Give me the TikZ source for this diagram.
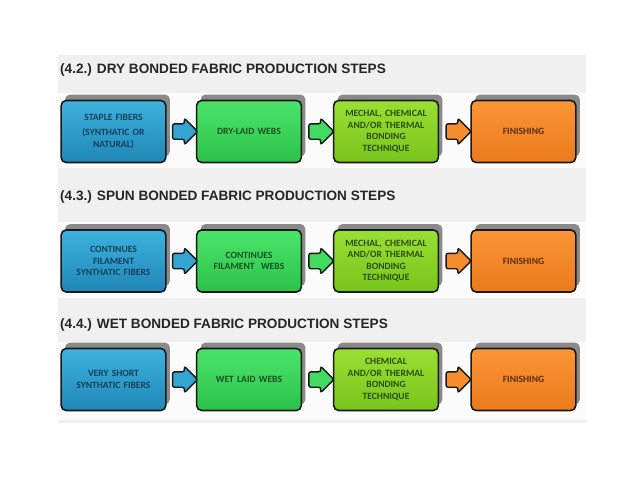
\documentclass[tikz,border=0pt]{standalone}
\usepackage{fontspec}
\setmainfont{Liberation Sans}
\newfontfamily\boxfont{Carlito}
\usetikzlibrary{shapes.arrows,shadows,calc}
\definecolor{panelgray}{HTML}{F0F0F0}
\definecolor{bandwhite}{HTML}{FBFBFB}
\definecolor{shgray}{HTML}{8A8A8A}
\definecolor{bluetop}{HTML}{3DB2DF}
\definecolor{bluebot}{HTML}{1F87B6}
\definecolor{greentop}{HTML}{4BE46A}
\definecolor{greenbot}{HTML}{2CC24A}
\definecolor{limetop}{HTML}{9BDF33}
\definecolor{limebot}{HTML}{78C41C}
\definecolor{orangetop}{HTML}{FA9536}
\definecolor{orangebot}{HTML}{EB7A1C}
\definecolor{bluetext}{HTML}{173F58}
\definecolor{greentext}{HTML}{1A5021}
\definecolor{limetext}{HTML}{2A4E10}
\definecolor{orangetext}{HTML}{5E2F0E}
\tikzset{
  stepbox/.style={rectangle, rounded corners=5pt, draw=black!90, line width=1.6pt,
    minimum width=102pt, minimum height=62pt, align=center, text width=98pt,
    font=\boxfont\bfseries\fontsize{9.6}{11.6}\selectfont,
    general shadow={fill=shgray, shadow xshift=4pt, shadow yshift=6pt}},
  bluebox/.style={stepbox, top color=bluetop, bottom color=bluebot, text=bluetext},
  greenbox/.style={stepbox, top color=greentop, bottom color=greenbot, text=greentext},
  limebox/.style={stepbox, top color=limetop, bottom color=limebot, text=limetext},
  orangebox/.style={stepbox, top color=orangetop, bottom color=orangebot, text=orangetext},
  blockarrow/.style={single arrow, draw=black!90, line width=1.4pt, rounded corners=2pt,
    minimum height=25pt, minimum width=0pt, inner xsep=0pt, inner ysep=7pt,
    single arrow head extend=5.5pt, single arrow tip angle=90},
  titletext/.style={anchor=west, font=\bfseries\fontsize{13.6}{15}\selectfont, text=black!85, inner sep=0pt}
}
\begin{document}
\begin{tikzpicture}[x=1pt,y=-1pt]
\useasboundingbox (0,0) rectangle (638,479);
\fill[white] (0,0) rectangle (638,479);
\fill[panelgray] (58,55) rectangle (586,423);
\fill[bandwhite] (58,93) rectangle (586,168);
\fill[bandwhite] (58,222) rectangle (586,298);
\fill[bandwhite] (58,342) rectangle (586,420);
% titles
\node[titletext] (t1) at (60,70) {(4.2.) DRY BONDED FABRIC PRODUCTION STEPS};
\node[titletext] (t2) at (60,197) {(4.3.) SPUN BONDED FABRIC PRODUCTION STEPS};
\node[titletext] (t3) at (60,325) {(4.4.) WET BONDED FABRIC PRODUCTION STEPS};
% row 1
\node[bluebox] (a1) at (113.5,131.5) {STAPLE FIBERS\\[4pt](SYNTHATIC OR\\NATURAL)};
\node[greenbox] (a2) at (249,131.5) {DRY-LAID WEBS};
\node[limebox] (a3) at (386,131.5) {MECHAL, CHEMICAL\\AND/OR THERMAL\\BONDING\\TECHNIQUE};
\node[orangebox] (a4) at (523.5,131.5) {FINISHING};
\node[blockarrow, fill=bluetop!70!bluebot] (ar1) at ($(a1.east)!0.5!(a2.west)$) {};
\node[blockarrow, fill=greentop!70!greenbot] (ar2) at ($(a2.east)!0.5!(a3.west)$) {};
\node[blockarrow, fill=orangetop!70!orangebot] (ar3) at ($(a3.east)!0.5!(a4.west)$) {};
% row 2
\node[bluebox] (b1) at (113.5,261) {CONTINUES\\FILAMENT\\SYNTHATIC FIBERS};
\node[greenbox] (b2) at (249,261) {CONTINUES\\FILAMENT\ \ WEBS};
\node[limebox] (b3) at (386,261) {MECHAL, CHEMICAL\\AND/OR THERMAL\\BONDING\\TECHNIQUE};
\node[orangebox] (b4) at (523.5,261) {FINISHING};
\node[blockarrow, fill=bluetop!70!bluebot] (br1) at ($(b1.east)!0.5!(b2.west)$) {};
\node[blockarrow, fill=greentop!70!greenbot] (br2) at ($(b2.east)!0.5!(b3.west)$) {};
\node[blockarrow, fill=orangetop!70!orangebot] (br3) at ($(b3.east)!0.5!(b4.west)$) {};
% row 3
\node[bluebox] (c1) at (113.5,379.5) {VERY SHORT\\SYNTHATIC FIBERS};
\node[greenbox] (c2) at (249,379.5) {WET LAID WEBS};
\node[limebox] (c3) at (386,379.5) {CHEMICAL\\AND/OR THERMAL\\BONDING\\TECHNIQUE};
\node[orangebox] (c4) at (523.5,379.5) {FINISHING};
\node[blockarrow, fill=bluetop!70!bluebot] (cr1) at ($(c1.east)!0.5!(c2.west)$) {};
\node[blockarrow, fill=greentop!70!greenbot] (cr2) at ($(c2.east)!0.5!(c3.west)$) {};
\node[blockarrow, fill=orangetop!70!orangebot] (cr3) at ($(c3.east)!0.5!(c4.west)$) {};
\end{tikzpicture}
\end{document}
